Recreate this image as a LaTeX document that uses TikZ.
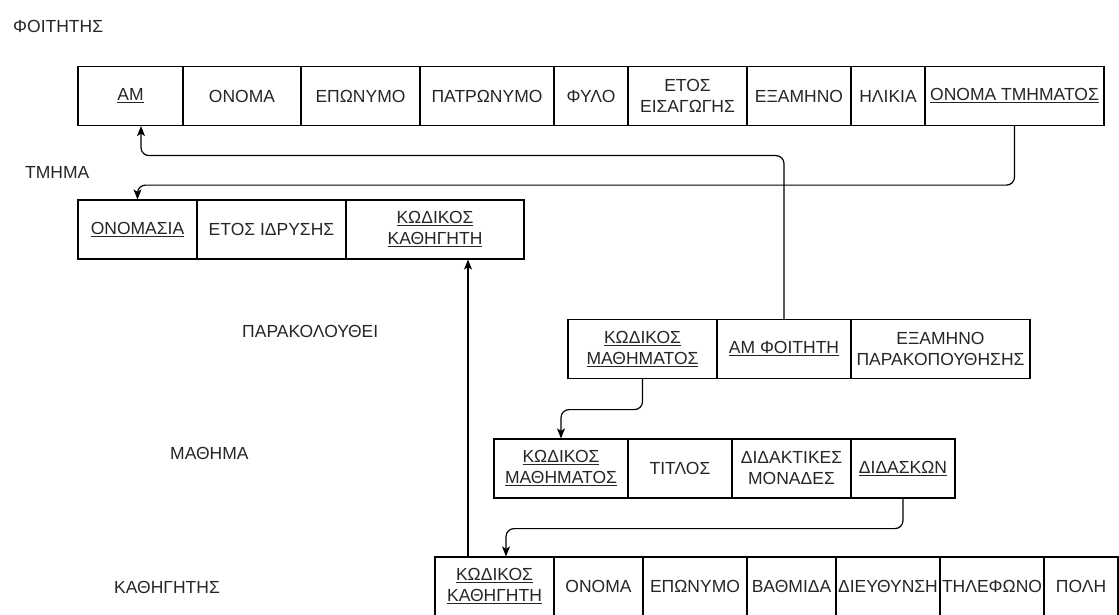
\documentclass[tikz,border=0pt]{standalone}
\usepackage{fontspec}
\setmainfont{Liberation Sans}
\usetikzlibrary{arrows.meta}
\newcommand\fs{\fontsize{17.5}{21}\selectfont}
\newcommand\ulx[1]{\leavevmode\setbox0\hbox{#1}\rlap{\rule[-2.6pt]{\wd0}{1.1pt}}\box0}
\newcommand\tcell[6]{\node[cell, minimum width={#3-#2}, minimum height={#5-#4}] (#1) at ({(#2+#3)/2},{(#4+#5)/2}) {#6};}
\tikzset{
  cell/.style={draw=black, line width=1.2pt, inner sep=0pt, align=center, font=\fs, text=black!85},
  lbl/.style={inner sep=0pt, font=\fs, text=black!85, anchor=west},
  conn/.style={draw=black, line width=1.2pt, rounded corners=8pt},
  arr/.style={-{Stealth[length=10pt,width=8pt,inset=2.5pt]}}
}
\begin{document}
\begin{tikzpicture}[x=1pt,y=-1pt]
\fill[white] (0,0) rectangle (1119,615);
\useasboundingbox (0,0) rectangle (1119,615);

% labels
\node[lbl] (lf) at (13,26) {ΦΟΙΤΗΤΗΣ};
\node[lbl] (lt) at (25,172) {ΤΜΗΜΑ};
\node[lbl] (lp) at (242,331) {ΠΑΡΑΚΟΛΟΥΘΕΙ};
\node[lbl] (lm) at (170,453) {ΜΑΘΗΜΑ};
\node[lbl] (lk) at (114,587) {ΚΑΘΗΓΗΤΗΣ};

% ΦΟΙΤΗΤΗΣ
\tcell{f1}{78}{183}{66.5}{125.5}{\ulx{ΑΜ}}
\tcell{f2}{183}{301}{66.5}{125.5}{ΟΝΟΜΑ}
\tcell{f3}{301}{420}{66.5}{125.5}{ΕΠΩΝΥΜΟ}
\tcell{f4}{420}{554}{66.5}{125.5}{ΠΑΤΡΩΝΥΜΟ}
\tcell{f5}{554}{628}{66.5}{125.5}{ΦΥΛΟ}
\tcell{f6}{628}{747}{66.5}{125.5}{ΕΤΟΣ\\ΕΙΣΑΓΩΓΗΣ}
\tcell{f7}{747}{851}{66.5}{125.5}{ΕΞΑΜΗΝΟ}
\tcell{f8}{851}{925}{66.5}{125.5}{ΗΛΙΚΙΑ}
\tcell{f9}{925}{1104}{66.5}{125.5}{\ulx{ΟΝΟΜΑ ΤΜΗΜΑΤΟΣ}}

% ΤΜΗΜΑ
\tcell{t1}{78}{197}{200}{259}{\ulx{ΟΝΟΜΑΣΙΑ}}
\tcell{t2}{197}{346}{200}{259}{ΕΤΟΣ ΙΔΡΥΣΗΣ}
\tcell{t3}{346}{524}{200}{259}{\ulx{ΚΩΔΙΚΟΣ}\\\ulx{ΚΑΘΗΓΗΤΗ}}

% ΠΑΡΑΚΟΛΟΥΘΕΙ
\tcell{p1}{568}{717}{319.5}{378.5}{\ulx{ΚΩΔΙΚΟΣ}\\\ulx{ΜΑΘΗΜΑΤΟΣ}}
\tcell{p2}{717}{851}{319.5}{378.5}{\ulx{ΑΜ ΦΟΙΤΗΤΗ}}
\tcell{p3}{851}{1030}{319.5}{378.5}{ΕΞΑΜΗΝΟ\\ΠΑΡΑΚΟΠΟΥΘΗΣΗΣ}

% ΜΑΘΗΜΑ
\tcell{m1}{494}{628}{439}{498}{\ulx{ΚΩΔΙΚΟΣ}\\\ulx{ΜΑΘΗΜΑΤΟΣ}}
\tcell{m2}{628}{732}{439}{498}{ΤΙΤΛΟΣ}
\tcell{m3}{732}{851}{439}{498}{ΔΙΔΑΚΤΙΚΕΣ\\ΜΟΝΑΔΕΣ}
\tcell{m4}{851}{955}{439}{498}{\ulx{ΔΙΔΑΣΚΩΝ}}

% ΚΑΘΗΓΗΤΗΣ
\tcell{k1}{435}{554}{557}{616}{\ulx{ΚΩΔΙΚΟΣ}\\\ulx{ΚΑΘΗΓΗΤΗ}}
\tcell{k2}{554}{643}{557}{616}{ΟΝΟΜΑ}
\tcell{k3}{643}{747}{557}{616}{ΕΠΩΝΥΜΟ}
\tcell{k4}{747}{836}{557}{616}{ΒΑΘΜΙΔΑ}
\tcell{k5}{836}{940}{557}{616}{ΔΙΕΥΘΥΝΣΗ}
\tcell{k6}{940}{1044}{557}{616}{ΤΗΛΕΦΩΝΟ}
\tcell{k7}{1044}{1118}{557}{616}{ΠΟΛΗ}

% connectors
\draw[conn, arr] (p2.north) |- ([xshift=10.5pt,yshift=-29.5pt]f1.south) -- ([xshift=10.5pt]f1.south);
\draw[conn, arr] (f9.south) -- ++(0,59) -| (t1.north);
\draw[conn, arr] (p1.south) -- ++(0,30.5) -| (m1.north);
\draw[conn, arr] (m4.south) -- ++(0,30) -| ([xshift=11.5pt]k1.north);
\draw[conn, arr] ([xshift=-26.5pt]k1.north) -- ([xshift=-26.5pt]k1.north |- t3.south);
\end{tikzpicture}
\end{document}
